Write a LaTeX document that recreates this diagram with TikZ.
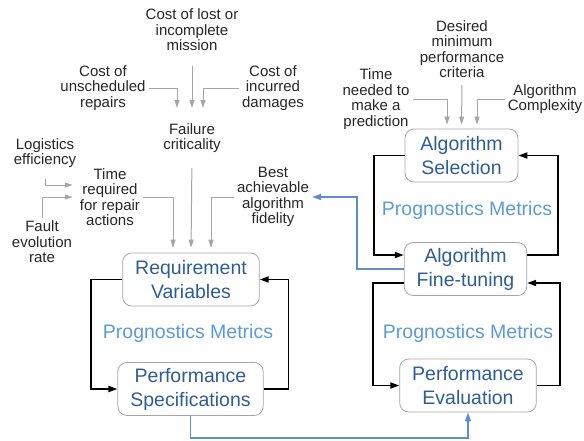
\documentclass[tikz,border=0pt]{standalone}
\usepackage{fontspec}
\setmainfont{Liberation Sans}
\usetikzlibrary{arrows.meta}

\definecolor{stageblue}{HTML}{2E5D95}
\definecolor{metricblue}{HTML}{5B9BD5}
\definecolor{linkblue}{HTML}{5B8FCB}
\definecolor{feedgray}{HTML}{A6A6A6}

\begin{document}
\begin{tikzpicture}[x=1pt, y=-1pt,
  factor/.style={align=center, inner sep=3pt, text=black!85, font=\fontsize{15}{15.5}\selectfont},
  stage/.style={draw=feedgray, line width=0.8pt, rounded corners=9pt, align=center, text=stageblue,
    inner xsep=12.5pt, minimum height=53pt, font=\fontsize{19.5}{24}\selectfont},
  metric/.style={text=metricblue, font=\fontsize{19.5}{24}\selectfont},
  feed/.style={draw=feedgray, line width=1pt, -{Triangle[length=8pt,width=5pt]}, shorten >=4pt},
  cyclearrow/.style={draw=black, line width=1.8pt, -{Triangle[length=9pt,width=6pt]}},
  link/.style={draw=linkblue, line width=1.5pt, -{Triangle[length=9pt,width=6pt]}}]
  \useasboundingbox (0,0) rectangle (584,440);

  % requirement side
  \node [factor] (lost) at (192,30) {Cost of lost or\\incomplete\\mission};
  \node [factor] (unsched) at (103,88) {Cost of\\unscheduled\\repairs};
  \node [factor] (incurred) at (273,88) {Cost of\\incurred\\damages};
  \node [factor] (failure) at (192,138) {Failure\\criticality};
  \node [factor] (logistics) at (45,153) {Logistics\\efficiency};
  \node [factor] (timereq) at (110,197) {Time\\required\\for repair\\actions};
  \node [factor] (fault) at (42,242) {Fault\\evolution\\rate};
  \node [factor] (best) at (273,197) {Best\\achievable\\algorithm\\fidelity};

  \node [stage] (reqvar) at (191,279.5) {Requirement\\Variables};
  \node [metric] (metricleft) at (188,333) {Prognostics Metrics};
  \node [stage] (perfspec) at (190.5,389) {Performance\\Specifications};

  % algorithm side
  \node [factor] (desired) at (462,49) {Desired\\minimum\\performance\\criteria};
  \node [factor] (timeneed) at (376,99) {Time\\needed to\\make a\\prediction};
  \node [factor] (complexity) at (545,99) {Algorithm\\Complexity};

  \node [stage, minimum width=113pt] (algsel) at (461.5,155.5) {Algorithm\\Selection};
  \node [metric] (metrictop) at (467,210) {Prognostics Metrics};
  \node [stage] (algtune) at (465.5,269) {Algorithm\\Fine-tuning};
  \node [metric] (metricbottom) at (468,333) {Prognostics Metrics};
  \node [stage] (perfeval) at (468,385.5) {Performance\\Evaluation};

  % inputs
  \draw [feed, shorten >=12pt] (unsched.east) -| ([xshift=-15pt]failure.north);
  \draw [feed, shorten <=12pt, shorten >=12pt] (lost.south) -- (failure.north);
  \draw [feed, shorten >=12pt] (incurred.west) -| ([xshift=11pt]failure.north);
  \draw [feed, shorten <=8pt] (logistics.south) |- ([yshift=12pt]timereq.west);
  \draw [feed] (fault.north) |- (timereq.west);
  \draw [feed, shorten >=5pt] (timereq.east) -| ([xshift=-18pt]reqvar.north);
  \draw [feed, shorten <=12pt, shorten >=5pt] (failure.south) -- (reqvar.north);
  \draw [feed, shorten >=5pt] (best.west) -| ([xshift=20pt]reqvar.north);
  \draw [feed] (timeneed.east) -| ([xshift=-14.5pt]algsel.north);
  \draw [feed, shorten <=4pt] (desired.south) -- (algsel.north);
  \draw [feed] (complexity.west) -| ([xshift=15.5pt]algsel.north);

  % iteration loops
  \draw [cyclearrow] (reqvar.west) -- ++(-31,0) |- (perfspec.west);
  \draw [cyclearrow] (perfspec.east) -- ++(25,0) |- (reqvar.east);
  \draw [cyclearrow] (algsel.west) -- ++(-31,0) |- ([yshift=14pt]algtune.west);
  \draw [cyclearrow] ([yshift=14pt]algtune.east) -- ++(31,0) |- (algsel.east);
  \draw [cyclearrow] ([yshift=-14pt]algtune.west) -- ++(-31,0) |- (perfeval.west);
  \draw [cyclearrow] (perfeval.east) -- ++(23,0) |- ([yshift=-14pt]algtune.east);

  % links between the two sides
  \coordinate (low) at (0,438);
  \draw [link] (perfspec.south) -- (perfspec.south |- low) -| (perfeval.south);
  \draw [link] (algtune.west) -- ++(-47,0) |- (best.east);
\end{tikzpicture}
\end{document}
